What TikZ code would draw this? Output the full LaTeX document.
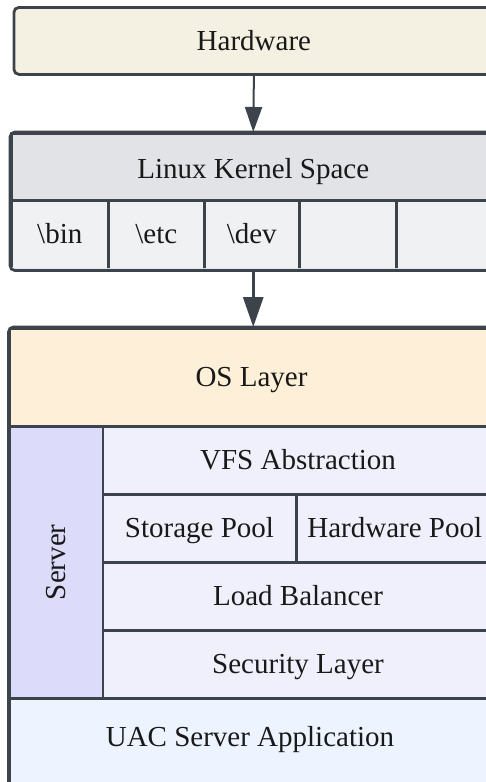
\documentclass[tikz,border=0pt]{standalone}
\usepackage{fontspec}
\setmainfont{Liberation Serif}
\usetikzlibrary{arrows.meta}
\definecolor{bordc}{HTML}{3D434B}
\definecolor{hwfill}{HTML}{F5F1E2}
\definecolor{lkfill}{HTML}{E1E3E7}
\definecolor{cellfill}{HTML}{F0F1F3}
\definecolor{osfill}{HTML}{FEF0D8}
\definecolor{srvfill}{HTML}{DCDCFA}
\definecolor{innfill}{HTML}{F0F0FC}
\definecolor{uacfill}{HTML}{EDF4FF}
\tikzset{
  lbl/.style={font=\fontsize{29}{34}\selectfont, text=black!90, text height=24pt, text depth=6pt},
  cell/.style={lbl, draw=bordc, line width=2.5pt, anchor=north west, inner sep=0pt},
  outerline/.style={draw=bordc, line width=2.8pt, rounded corners=5pt},
  conn/.style={draw=bordc, -{Triangle[length=25pt,width=17pt]}},
}
\begin{document}
\begin{tikzpicture}[x=1pt,y=-1pt]
\useasboundingbox (0,0) rectangle (486,782);
\clip (0,0) rectangle (486,782);
% Hardware
\node[cell, rounded corners=5pt, fill=hwfill, line width=2.8pt, minimum width=480, minimum height=67, text height=26pt] (hw) at (12.5,6) {Hardware};
% Linux kernel space
\begin{scope}
\clip[rounded corners=5pt] (10,132) rectangle (494,268);
\node[cell, fill=lkfill, minimum width=484, minimum height=67, text height=28pt, text depth=4pt] (lk) at (10,132) {Linux Kernel Space};
\node[cell, fill=cellfill, minimum width=97, minimum height=69] (bin) at (10,199) {\textbackslash bin};
\node[cell, fill=cellfill, minimum width=96, minimum height=69] (etc) at (107,199) {\textbackslash etc};
\node[cell, fill=cellfill, minimum width=95, minimum height=69] (dev) at (203,199) {\textbackslash dev};
\node[cell, fill=cellfill, minimum width=97, minimum height=69] (c4) at (298,199) {};
\node[cell, fill=cellfill, minimum width=99, minimum height=69] (c5) at (395,199) {};
\end{scope}
\draw[outerline] (lk.north west) rectangle (c5.south east);
% OS layer
\begin{scope}
\clip[rounded corners=5pt] (8.5,327) rectangle (492,790);
\node[cell, fill=osfill, minimum width=483.5, minimum height=98] (os) at (8.5,327) {OS Layer};
\node[cell, fill=srvfill, minimum width=93, minimum height=272] (srv) at (8.5,425) {};
\node[lbl, rotate=90] (srvt) at (srv.center) {Server};
\node[cell, fill=innfill, minimum width=390.5, minimum height=68] (vfs) at (101.5,425) {VFS Abstraction};
\node[cell, fill=innfill, minimum width=193.5, minimum height=68] (sp) at (101.5,493) {Storage Pool};
\node[cell, fill=innfill, minimum width=197, minimum height=68] (hp) at (295,493) {Hardware Pool};
\node[cell, fill=innfill, minimum width=390.5, minimum height=68] (lb) at (101.5,561) {Load Balancer};
\node[cell, fill=innfill, minimum width=390.5, minimum height=68] (sec) at (101.5,629) {Security Layer};
\node[cell, fill=uacfill, minimum width=483.5, minimum height=93] (uac) at (8.5,697) {};
\node[lbl] (uact) at (250,737) {UAC Server Application};
\end{scope}
\draw[outerline] (os.north west) rectangle (uac.south east);
% connectors
\draw[conn, line width=2pt] (hw.south) -- (lk.north);
\draw[conn, line width=3pt, -{Triangle[length=30pt,width=20pt]}] (dev.south -| lk.north) -- (os.north -| lk.north);
\end{tikzpicture}
\end{document}
